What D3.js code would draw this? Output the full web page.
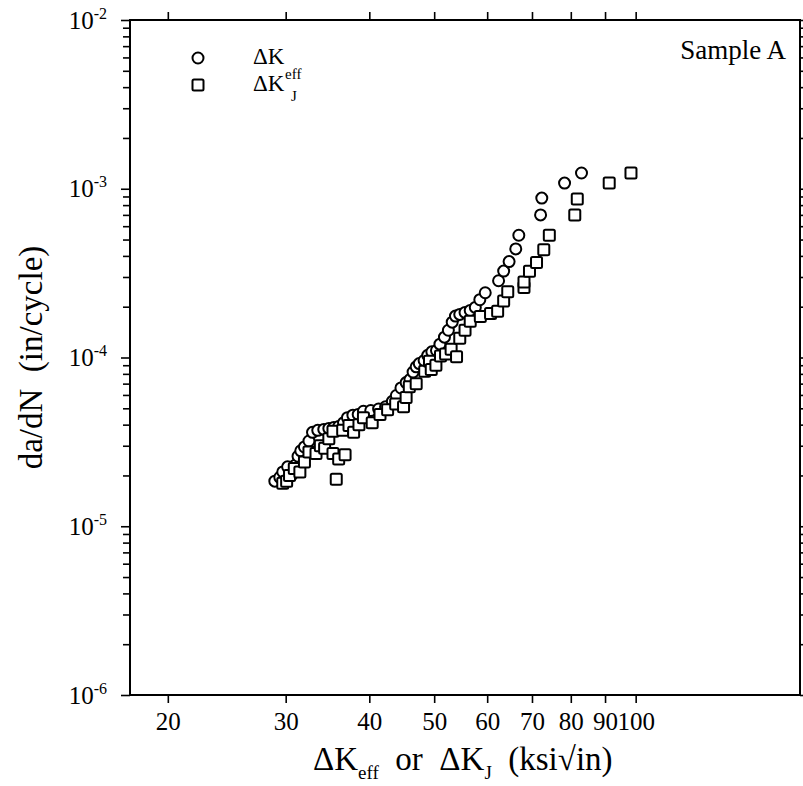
<!DOCTYPE html>
<html>
<head>
<meta charset="utf-8">
<script src="https://cdn.jsdelivr.net/npm/d3@7"></script>
<style>
  body { margin: 0; background: #fff; }
  text { font-family: "Liberation Serif", "Times New Roman", serif; fill: #000; }
</style>
</head>
<body>
<div id="chart"></div>
<script>
// ΔK_eff (circles)
const keffX = [28.9, 29.4, 29.7, 30.2, 30.6, 31.0, 31.3, 31.6, 32.0, 32.5, 32.9, 33.5, 34.2, 34.8, 35.4, 36.0, 36.6, 37.1, 37.8, 38.5,
    39.2, 40.2, 41.3, 42.3, 43.3, 43.9, 44.6, 45.4, 46.0, 46.5, 47.0, 47.5, 48.3, 48.9, 49.6, 50.4, 51.0, 51.8, 52.5, 53.2,
    53.8, 54.6, 55.6, 56.6, 57.6, 58.5, 59.6, 62.4, 63.5, 64.7, 66.2, 66.9, 72.1, 72.4, 78.3, 83.0];
const keffY = [1.85e-5, 1.95e-5, 2.1e-5, 2.25e-5, 2.0e-5, 2.3e-5, 2.6e-5, 2.8e-5, 2.95e-5, 3.2e-5, 3.6e-5, 3.7e-5, 3.75e-5, 3.8e-5, 3.85e-5, 3.9e-5, 4.1e-5, 4.4e-5, 4.55e-5, 4.6e-5,
    4.8e-5, 4.85e-5, 4.95e-5, 5.1e-5, 5.5e-5, 5.95e-5, 6.6e-5, 7.1e-5, 7.4e-5, 8.2e-5, 8.8e-5, 9.2e-5, 9.6e-5, 1.03e-4, 1.08e-4, 1.1e-4, 1.2e-4, 1.32e-4, 1.45e-4, 1.62e-4,
    1.76e-4, 1.8e-4, 1.85e-4, 1.9e-4, 1.98e-4, 2.2e-4, 2.42e-4, 2.85e-4, 3.25e-4, 3.7e-4, 4.4e-4, 5.3e-4, 7.0e-4, 8.8e-4, 1.08e-3, 1.24e-3];

// ΔK_J (squares)
const kjX = [29.7, 30.1, 30.4, 30.9, 31.5, 32.0, 32.5, 33.3, 33.8, 34.3, 34.8, 35.3, 35.7, 36.0, 36.8, 35.3, 36.5, 37.3, 37.9, 38.6,
    39.2, 40.4, 41.5, 42.6, 43.8, 45.0, 45.4, 45.9, 47.0, 48.4, 49.2, 49.5, 50.3, 51.1, 52.0, 53.0, 54.0, 54.6, 55.6, 56.6,
    58.6, 60.7, 62.2, 63.5, 64.4, 68.1, 68.1, 69.4, 71.1, 72.9, 74.3, 81.1, 81.8, 91.3, 98.4];
const kjY = [1.8e-5, 1.85e-5, 2.0e-5, 2.2e-5, 2.1e-5, 2.4e-5, 2.75e-5, 2.7e-5, 3.0e-5, 2.9e-5, 3.3e-5, 2.7e-5, 1.9e-5, 2.5e-5, 2.65e-5, 3.65e-5, 3.7e-5, 3.95e-5, 3.6e-5, 4.0e-5,
    4.4e-5, 4.1e-5, 4.6e-5, 4.9e-5, 5.3e-5, 5.1e-5, 5.8e-5, 6.7e-5, 7.0e-5, 8.3e-5, 9.5e-5, 8.5e-5, 9.0e-5, 1.02e-4, 1.05e-4, 1.12e-4, 1.01e-4, 1.3e-4, 1.45e-4, 1.64e-4,
    1.75e-4, 1.82e-4, 1.88e-4, 2.16e-4, 2.45e-4, 2.6e-4, 2.8e-4, 3.24e-4, 3.65e-4, 4.35e-4, 5.3e-4, 7.0e-4, 8.7e-4, 1.08e-3, 1.24e-3];

const xTicks = [20, 30, 40, 50, 60, 70, 80, 90, 100];
const yMajor = [1e-6, 1e-5, 1e-4, 1e-3, 1e-2];
const yExp = ["-6", "-5", "-4", "-3", "-2"];

const W = 803, H = 786;
const margin = { left: 130, right: 800, top: 20, bottom: 695 };

const svg = d3.select("#chart").append("svg")
    .attr("width", W)
    .attr("height", H);

svg.append("rect").attr("width", W).attr("height", H).attr("fill", "#fff");

let x = d3.scaleLog().domain([17.56, 176]).range([margin.left, margin.right]);
let y = d3.scaleLog().domain([1e-6, 1e-2]).range([margin.bottom, margin.top]);

// minor ticks for y: 2..9 in each decade
const yMinor = [];
yMajor.slice(0, -1).forEach(d => {
    for (let k = 2; k <= 9; k++) yMinor.push(d * k);
});

/* X axes */
const xb = svg.append("g")
    .attr("transform", `translate(0, ${margin.bottom})`)
    .call(d3.axisBottom(x).tickValues(xTicks).tickSize(8).tickPadding(9).tickFormat(d3.format("d")));
xb.selectAll("text").style("font-size", "25px");

svg.append("g")
    .attr("transform", `translate(0, ${margin.top})`)
    .call(d3.axisTop(x).tickValues(xTicks).tickSize(8).tickFormat(""));

/* Y axes */
const yl = svg.append("g")
    .attr("transform", `translate(${margin.left}, 0)`)
    .call(d3.axisLeft(y).tickValues(yMajor).tickSize(9).tickPadding(14).tickFormat(""));
yl.selectAll(".tick text").each(function (d, i) {
    const t = d3.select(this).style("font-size", "25px");
    t.append("tspan").text("10");
    t.append("tspan").text(yExp[i]).style("font-size", "16px").attr("dy", "-10");
});

svg.append("g")
    .attr("transform", `translate(${margin.left}, 0)`)
    .call(d3.axisLeft(y).tickValues(yMinor).tickSize(7).tickFormat(""));

svg.append("g")
    .attr("transform", `translate(${margin.right}, 0)`)
    .call(d3.axisRight(y).tickValues(yMajor.concat(yMinor)).tickSize(8).tickFormat(""));

svg.selectAll(".domain").remove();
svg.selectAll(".tick line").attr("stroke", "#000").attr("stroke-width", 1.6);

// frame
svg.append("rect")
    .attr("x", margin.left).attr("y", margin.top)
    .attr("width", margin.right - margin.left).attr("height", margin.bottom - margin.top)
    .attr("fill", "none").attr("stroke", "#000").attr("stroke-width", 2);

/* data */
const plot = svg.append("g");

plot.selectAll("circle.keff")
    .data(keffX.map((v, i) => [v, keffY[i]]))
    .enter()
    .append("circle")
    .attr("cx", d => x(d[0]))
    .attr("cy", d => y(d[1]))
    .attr("r", 5.5)
    .attr("fill", "#fff")
    .attr("stroke", "#000")
    .attr("stroke-width", 2);

const s = 11;
plot.selectAll("rect.kj")
    .data(kjX.map((v, i) => [v, kjY[i]]))
    .enter()
    .append("rect")
    .attr("x", d => x(d[0]) - s / 2)
    .attr("y", d => y(d[1]) - s / 2)
    .attr("width", s)
    .attr("height", s)
    .attr("rx", 1.5)
    .attr("fill", "#fff")
    .attr("stroke", "#000")
    .attr("stroke-width", 2);

/* legend */
svg.append("circle").attr("cx", 198).attr("cy", 58).attr("r", 5.5)
    .attr("fill", "#fff").attr("stroke", "#000").attr("stroke-width", 2);
svg.append("rect").attr("x", 198 - s / 2).attr("y", 85 - s / 2).attr("width", s).attr("height", s).attr("rx", 1.5)
    .attr("fill", "#fff").attr("stroke", "#000").attr("stroke-width", 2);

svg.append("text").attr("x", 253).attr("y", 64).style("font-size", "23px").text("ΔK");
svg.append("text").attr("x", 253).attr("y", 91).style("font-size", "23px").text("ΔK");
svg.append("text").attr("x", 285).attr("y", 79).style("font-size", "15px").text("eff");
svg.append("text").attr("x", 291).attr("y", 101).style("font-size", "15px").text("J");

svg.append("text")
    .attr("x", 786).attr("y", 59)
    .attr("text-anchor", "end")
    .style("font-size", "27px")
    .text("Sample A");

/* axis titles */
const xt = svg.append("text")
    .attr("x", 313).attr("y", 770)
    .style("font-size", "33px");
xt.append("tspan").text("ΔK");
xt.append("tspan").text("eff").style("font-size", "19px").attr("dy", 9);
xt.append("tspan").text("\u00a0\u00a0or\u00a0\u00a0").attr("dy", -9);
xt.append("tspan").text("ΔK");
xt.append("tspan").text("J").style("font-size", "19px").attr("dy", 9);
xt.append("tspan").text("\u00a0\u00a0(ksi√in)").attr("dy", -9);

svg.append("text")
    .attr("transform", `translate(42, ${(margin.top + margin.bottom) / 2}) rotate(-90)`)
    .attr("text-anchor", "middle")
    .style("font-size", "33px")
    .text("da/dN\u00a0\u00a0(in/cycle)");
</script>
</body>
</html>
